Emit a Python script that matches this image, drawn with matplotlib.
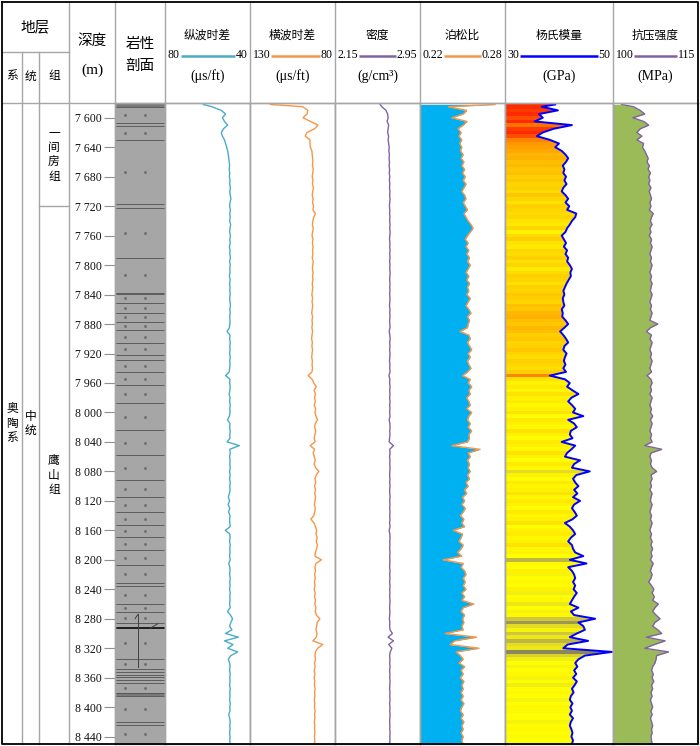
import matplotlib
matplotlib.use('Agg')
import matplotlib.pyplot as plt
from matplotlib.colors import LinearSegmentedColormap, Normalize
import numpy as np

plt.rcParams['font.family'] = ['Noto Sans CJK SC', 'DejaVu Sans']

# ---------------------------------------------------------------
# dados
# ---------------------------------------------------------------
depth = [7582] + list(range(7585, 8451, 5))

dt = [62.0,
      58, 53.5, 51.5, 53, 52, 50.5, 52.5, 53.5, 53, 52,
      51.5, 51, 50.5, 50.2, 50, 49.8, 49.6, 49.8, 49.5, 49.7,
      49.4, 49.6, 49.2, 49.5, 49.3, 49.0, 49.4, 49.6, 49.2, 49.5,
      49.3, 49.6, 49.1, 49.4, 49.6, 49.2, 49.5, 49.3, 49.7, 49.4,
      49.5, 49.2, 49.6, 49.3, 49.5, 49.4, 49.7, 49.3, 49.6, 49.4,
      49.5, 49.3, 49.6, 49.4, 49.2, 49.5, 49.3, 49.6, 49.4, 49.5,
      49.7, 50.8, 49.4, 49.6, 49.3, 49.5, 49.4, 49.6, 49.3, 49.5,
      49.4, 49.6, 49.8, 51.5, 49.4, 49.6, 49.3, 49.5, 49.8, 49.4,
      49.6, 49.3, 49.5, 49.4, 49.7, 50.6, 49.4, 49.6, 49.3, 49.5,
      49.4, 50.8, 45.0, 49.5, 49.3, 49.6, 49.4, 49.5, 49.3, 49.6,
      49.4, 49.6, 49.3, 49.5, 49.4, 49.7, 50.2, 49.6, 50.3, 49.5,
      50.1, 49.4, 49.6, 49.5, 49.3, 51.6, 49.5, 49.4, 49.6, 49.3,
      49.5, 49.4, 49.6, 49.3, 50.0, 49.5, 49.4, 49.6, 49.3, 49.5,
      49.4, 49.6, 49.3, 49.5, 49.4, 49.6, 49.3, 50.6, 49.2, 48.2,
      49.0, 49.6, 48.5, 51.5, 45.5, 52.0, 48.0, 50.5, 45.8, 49.0,
      50.2, 49.6, 49.4, 49.6, 49.3, 49.5, 49.4, 49.6, 49.3, 49.5,
      49.4, 49.6, 49.3, 49.5, 49.4, 50.0, 49.6, 49.3, 49.5, 49.4,
      49.6, 49.4, 49.5, 49.3]

dts = [118.0,
       99, 96, 96.5, 98.8, 94.5, 90, 92, 96.5, 97.5, 94.7,
       94.7, 94.5, 93.6, 93.4, 93.2, 93, 93.3, 92.8, 93.1, 93.4,
       93, 93.3, 92.7, 93.1, 93.4, 92.9, 93.2, 92.6, 93, 91.5,
       92.5, 93, 93.3, 92.8, 93.2, 93.5, 93, 93.3, 92.9, 93.2,
       93, 93.4, 92.8, 93.1, 93.3, 92.9, 93.2, 93, 93.4, 93.1,
       93.3, 93.6, 93.2, 93.5, 93.1, 93.4, 93.7, 93.2, 93.5, 93.3,
       93.6, 93.2, 93.5, 93.8, 93.3, 93.6, 93.2, 93.5, 93.7, 93.3,
       93.5, 93.2, 93.6, 95.8, 93.4, 92.5, 91, 92.3, 91.5, 92,
       91.6, 92.2, 91.4, 91.8, 91.2, 90.3, 91.6, 92, 91.3, 91.8,
       92.3, 91.7, 94.6, 92, 92.8, 92.2, 91.6, 92.3, 91.4, 89.5,
       91, 91.8, 91.3, 92, 91.5, 91.9, 91.4, 91.8, 92.1, 91.6,
       91.9, 92.5, 94.2, 92.3, 91.5, 90.8, 91.2, 90.5, 91, 90.4,
       90.8, 91.5, 91.8, 88, 91.2, 91.8, 91.5, 92, 91.6, 92.1,
       91.8, 92.2, 91.7, 92, 91.5, 91.9, 91.2, 91.6, 91, 88.9,
       90.5, 90.8, 91.2, 90.6, 91, 93, 87.2, 90.2, 91.5, 91.8,
       91.5, 92, 91.7, 92.2, 91.8, 92.3, 91.9, 92.1, 91.7, 92,
       91.8, 92.2, 91.9, 92.1, 91.7, 92, 91.8, 92.2, 91.9, 92,
       91.8, 92.1, 91.9, 92.0]

rhob = [2.575,
        2.59, 2.63, 2.645, 2.65, 2.64, 2.655, 2.65, 2.645, 2.655, 2.65,
        2.655, 2.66, 2.657, 2.662, 2.659, 2.663, 2.66, 2.664, 2.661, 2.665,
        2.662, 2.666, 2.663, 2.667, 2.664, 2.668, 2.665, 2.662, 2.666, 2.664,
        2.667, 2.664, 2.668, 2.665, 2.669, 2.666, 2.663, 2.667, 2.665, 2.668,
        2.665, 2.668, 2.664, 2.667, 2.665, 2.669, 2.666, 2.664, 2.668, 2.665,
        2.667, 2.664, 2.668, 2.666, 2.663, 2.667, 2.665, 2.668, 2.664, 2.666,
        2.668, 2.66, 2.666, 2.669, 2.665, 2.667, 2.664, 2.668, 2.666, 2.663,
        2.667, 2.665, 2.668, 2.658, 2.666, 2.664, 2.668, 2.665, 2.667, 2.664,
        2.668, 2.665, 2.667, 2.664, 2.668, 2.66, 2.666, 2.668, 2.665, 2.667,
        2.664, 2.66, 2.70, 2.665, 2.668, 2.664, 2.667, 2.665, 2.668, 2.666,
        2.664, 2.667, 2.665, 2.668, 2.664, 2.666, 2.668, 2.665, 2.667, 2.664,
        2.668, 2.665, 2.667, 2.664, 2.668, 2.66, 2.666, 2.668, 2.665, 2.667,
        2.664, 2.668, 2.665, 2.667, 2.666, 2.664, 2.668, 2.665, 2.667, 2.664,
        2.668, 2.665, 2.667, 2.664, 2.668, 2.666, 2.664, 2.667, 2.665, 2.662,
        2.666, 2.664, 2.668, 2.69, 2.65, 2.70, 2.655, 2.685, 2.67, 2.664,
        2.667, 2.665, 2.668, 2.664, 2.667, 2.665, 2.668, 2.666, 2.664, 2.667,
        2.665, 2.668, 2.664, 2.667, 2.665, 2.668, 2.666, 2.664, 2.667, 2.665,
        2.668, 2.666, 2.667, 2.665]

pr = [0.273,
      0.240, 0.253, 0.2505, 0.2425, 0.2532, 0.2505, 0.2468, 0.249, 0.2475, 0.2495,
      0.248, 0.2495, 0.2485, 0.2505, 0.249, 0.251, 0.2495, 0.2515, 0.25, 0.252,
      0.2505, 0.2525, 0.251, 0.2495, 0.2515, 0.2525, 0.2505, 0.252, 0.2535, 0.251,
      0.2525, 0.254, 0.256, 0.2575, 0.2555, 0.2535, 0.252, 0.254, 0.2525, 0.2545,
      0.253, 0.255, 0.2535, 0.2555, 0.254, 0.2525, 0.2545, 0.253, 0.255, 0.2535,
      0.2545, 0.253, 0.2555, 0.254, 0.2525, 0.2545, 0.256, 0.2535, 0.255, 0.254,
      0.2535, 0.2482, 0.2545, 0.2555, 0.2535, 0.255, 0.2565, 0.254, 0.2555, 0.2535,
      0.2545, 0.256, 0.2535, 0.250, 0.2555, 0.254, 0.2565, 0.2545, 0.2555, 0.253,
      0.2545, 0.2555, 0.253, 0.2565, 0.2545, 0.2535, 0.2555, 0.254, 0.2565, 0.2545,
      0.255, 0.2535, 0.2424, 0.2624, 0.254, 0.2555, 0.2535, 0.255, 0.254, 0.2555,
      0.2535, 0.255, 0.2525, 0.254, 0.2515, 0.253, 0.250, 0.2515, 0.2495, 0.252,
      0.2505, 0.2485, 0.251, 0.2495, 0.2515, 0.2435, 0.25, 0.249, 0.2475, 0.2505,
      0.249, 0.2465, 0.2495, 0.2363, 0.2505, 0.249, 0.2515, 0.2525, 0.2505, 0.252,
      0.2505, 0.2525, 0.2495, 0.2515, 0.2495, 0.258, 0.2505, 0.249, 0.2515, 0.25,
      0.251, 0.2495, 0.2505, 0.2377, 0.260, 0.2445, 0.2412, 0.2617, 0.2455, 0.2485,
      0.2505, 0.2475, 0.2515, 0.249, 0.2505, 0.2485, 0.251, 0.2495, 0.2505, 0.249,
      0.2505, 0.249, 0.251, 0.2495, 0.2485, 0.2505, 0.249, 0.251, 0.2495, 0.2505,
      0.249, 0.2505, 0.2495, 0.2505]

ym = [39.3,
      36.8, 39.8, 36.3, 37.0, 35.5, 42.4, 39.0, 37.0, 35.9, 38.3,
      40.0, 39.3, 40.5, 41.2, 41.7, 41.3, 40.7, 41.0, 40.8, 41.3,
      41.0, 41.4, 40.8, 40.5, 41.2, 41.7, 41.2, 41.9, 41.5, 43.2,
      43.0, 42.4, 42.0, 41.5, 41.2, 40.5, 40.9, 41.3, 40.9, 41.5,
      41.2, 41.7, 41.5, 42.0, 42.4, 42.1, 42.2, 41.8, 41.4, 41.1,
      40.8, 41.0, 40.7, 40.8, 41.0, 40.5, 40.7, 40.6, 41.2, 41.7,
      41.0, 40.2, 40.8, 41.3, 41.7, 41.0, 40.8, 41.4, 41.1, 40.9,
      41.2, 40.8, 41.3, 38.3, 41.1, 42.0, 41.5, 42.5, 43.6, 42.3,
      41.7, 42.4, 43.0, 42.6, 44.5, 41.7, 42.8, 43.3, 42.2, 42.0,
      42.5, 40.5, 43.0, 42.3, 41.5, 41.1, 43.9, 42.8, 42.4, 45.7,
      43.2, 42.6, 43.0, 43.6, 42.8, 43.4, 42.6, 43.9, 42.8, 42.4,
      42.9, 43.3, 42.5, 41.1, 42.0, 42.6, 43.0, 42.2, 41.7, 42.4,
      42.6, 43.0, 44.5, 42.0, 45.1, 41.7, 42.4, 42.8, 43.0, 42.6,
      43.0, 42.7, 43.3, 42.8, 42.4, 42.0, 43.6, 42.2, 42.8, 46.7,
      43.6, 44.5, 44.8, 43.3, 42.0, 45.4, 41.6, 40.8, 49.8, 44.8,
      43.6, 43.0, 43.4, 42.8, 43.2, 42.6, 43.3, 42.9, 42.4, 42.7,
      42.2, 42.0, 42.5, 42.1, 42.4, 42.0, 42.6, 42.2, 42.0, 42.3,
      42.5, 42.3, 42.6, 42.4]

# indice de cor do preenchimento do módulo de Young (-1 cinza, 0 amarelo, 1 vermelho)
ym_cor = [1.0,
          1.0, 0.95, 1.0, 0.9, 1.0, 0.8, 0.95, 1.0, 0.9, 0.75,
          0.7, 0.65, 0.6, 0.5, 0.55, 0.45, 0.5, 0.4, 0.45, 0.35,
          0.4, 0.3, 0.35, 0.25, 0.4, 0.3, 0.2, 0.35, 0.3, 0.25,
          0.3, 0.2, 0.15, 0.3, 0.1, 0.25, 0.35, 0.2, 0.15, 0.3,
          0.25, 0.35, 0.2, 0.3, 0.15, 0.25, 0.35, 0.3, 0.2, 0.35,
          0.3, 0.4, 0.35, 0.3, 0.45, 0.4, 0.5, 0.55, 0.45, 0.4,
          0.5, 0.45, 0.35, 0.4, 0.3, 0.35, 0.4, 0.3, 0.25, 0.35,
          0.3, 0.25, 0.35, 0.75, 0.2, 0.1, 0.15, 0.05, 0.2, 0.1,
          0.15, 0.05, 0.1, 0.2, 0.0, 0.15, 0.1, 0.05, 0.2, 0.1,
          0.0, 0.15, 0.1, 0.05, 0.2, 0.1, 0.0, 0.15, 0.05, -0.3,
          0.1, 0.0, 0.15, 0.05, 0.1, 0.2, 0.05, 0.15, 0.1, 0.0,
          0.15, 0.05, 0.1, 0.2, 0.0, 0.1, 0.15, 0.05, 0.1, 0.2,
          0.05, 0.1, 0.0, -0.6, 0.05, 0.0, 0.1, -0.1, 0.0, 0.05,
          0.0, 0.1, -0.15, 0.0, 0.05, -0.2, 0.0, -0.1, 0.05, -0.5,
          -0.8, -0.3, -0.1, -0.5, -0.2, -0.6, -0.3, -0.2, -0.9, -0.4,
          -0.15, 0.0, -0.1, 0.0, 0.05, -0.1, 0.0, -0.15, 0.0, 0.05,
          0.0, -0.1, 0.0, 0.05, -0.05, 0.0, 0.0, -0.1, 0.0, 0.05,
          0.0, -0.05, 0.0, 0.0]

ucs = [101.5,
       103.6, 104.8, 105.6, 103.5, 105.4, 106.3, 104.8, 104.2, 105.1, 104.2,
       105.4, 105.2, 105.6, 105.9, 106.2, 106.0, 106.4, 106.2, 106.6, 106.3,
       106.5, 106.3, 106.7, 106.4, 106.6, 106.8, 106.5, 106.7, 106.4, 107.1,
       106.8, 106.6, 106.9, 106.5, 106.7, 106.4, 106.8, 106.6, 106.9, 106.7,
       106.5, 106.8, 106.6, 106.9, 106.7, 106.5, 106.8, 106.6, 106.9, 106.7,
       106.6, 106.9, 106.7, 106.5, 106.8, 106.6, 106.9, 106.7, 106.5, 107.9,
       106.6, 105.9, 106.8, 106.5, 106.9, 106.7, 106.5, 106.8, 106.6, 106.9,
       106.7, 106.5, 106.8, 106.0, 106.7, 106.9, 106.6, 106.8, 106.5, 106.9,
       106.7, 106.5, 106.8, 106.6, 107.0, 106.6, 106.9, 106.7, 106.5, 106.8,
       106.6, 106.9, 105.6, 108.6, 106.7, 106.5, 106.8, 106.6, 106.9, 107.7,
       106.7, 106.9, 106.6, 106.8, 106.5, 106.9, 106.7, 106.6, 106.9, 106.7,
       106.5, 106.8, 106.6, 106.9, 106.7, 106.5, 106.8, 106.6, 106.9, 106.7,
       107.0, 106.7, 106.9, 106.6, 107.1, 106.8, 106.6, 106.9, 106.7, 106.3,
       106.8, 107.2, 106.9, 107.3, 107.0, 108.0, 107.4, 107.0, 107.6, 108.3,
       107.4, 107.0, 107.9, 108.6, 105.9, 109.2, 107.3, 105.6, 109.8, 107.7,
       107.6, 107.4, 107.0, 106.8, 107.1, 106.9, 107.2, 106.8, 107.0, 106.7,
       106.9, 106.6, 106.8, 107.0, 106.7, 106.9, 106.6, 106.8, 107.0, 106.8,
       106.9, 106.7, 106.8, 106.9]

# limites das camadas (perfil litológico)
camadas = [7585, 7607, 7611, 7630, 7717, 7722, 7790, 7838, 7839, 7851, 7865,
           7877, 7888, 7906, 7922, 7929, 7945, 7963, 7987, 8024, 8058, 8092,
           8115, 8135, 8153, 8169, 8187, 8207, 8231, 8235, 8260, 8271, 8286,
           8292, 8334, 8348, 8352, 8356, 8359, 8363, 8367, 8381, 8385, 8420, 8424]
faixas_escuras = [(7580, 7585), (8381, 8385)]
fratura = (8274, 8346)

formacoes = [('一间房组', 7580, 7720), ('鹰山组', 7720, 8450)]
serie = '中统'
sistema = '奥陶系'

profundidades = list(range(7600, 8441, 40))

# ---------------------------------------------------------------
# figura
# ---------------------------------------------------------------
W, H = 700, 746
TOP, BOT = 103, 744
D_TOP, D_BOT = 7580, 8450
GRID = '#a6a6a6'
SERIF = 'Liberation Serif'

fig = plt.figure(figsize=(W / 100, H / 100), dpi=100)


def px_rect(x0, x1, y0=TOP, y1=BOT):
    return [x0 / W, 1 - y1 / H, (x1 - x0) / W, (y1 - y0) / H]


def trilha(x0, x1, xlim):
    ax = fig.add_axes(px_rect(x0, x1))
    ax.set_xlim(*xlim)
    ax.set_ylim(D_BOT, D_TOP)
    ax.set_xticks([])
    ax.set_yticks([])
    for s in ax.spines.values():
        s.set_color(GRID)
        s.set_linewidth(1)
    return ax


# estratigrafia
ax_s = fig.add_axes(px_rect(2, 69))
ax_s.set_xlim(2, 69)
ax_s.set_ylim(D_BOT, D_TOP)
ax_s.axis('off')
for nome, d0, d1 in formacoes:
    ax_s.text(54, (d0 + d1) / 2, '\n'.join(nome), ha='center', va='center',
              fontsize=8.5, linespacing=1.15)
ax_s.plot([39, 69], [formacoes[0][2]] * 2, color=GRID, lw=1)
ax_s.text(30.5, (D_TOP + D_BOT) / 2, '\n'.join(serie), ha='center', va='center',
          fontsize=8.5, linespacing=1.15)
ax_s.text(12, (D_TOP + D_BOT) / 2, '\n'.join(sistema), ha='center', va='center',
          fontsize=8.5, linespacing=1.15)

# perfil litológico + profundidade
ax_l = trilha(115, 165, (0, 1))
ax_l.fill_betweenx([D_TOP, D_BOT], 0, 1, color='#a6a6a6', lw=0)
for d0, d1 in faixas_escuras:
    ax_l.fill_betweenx([d0, d1], 0, 1, color='#7a7a7a', lw=0)
ax_l.hlines(camadas, 0, 1, color='#505050', lw=0.6)
ax_l.hlines([8292], 0, 1, color='#202020', lw=1.4)
meios = [(a + b) / 2 for a, b in zip(camadas[:-1], camadas[1:]) if b - a > 8]
meios += [(camadas[-1] + D_BOT) / 2]
ax_l.plot([0.2] * len(meios), meios, ls='none', marker='s', ms=1.0, color='#707070')
ax_l.plot([0.6] * len(meios), meios, ls='none', marker='s', ms=1.0, color='#707070')
ax_l.plot([0.46, 0.46], fratura, color='#404040', lw=0.7)
ax_l.plot([0.40, 0.46], [fratura[0] + 6, fratura[0]], color='#404040', lw=0.7)
ax_l.plot([0.70, 0.85], [8293, 8287], color='#404040', lw=0.7)
ax_l.set_yticks(profundidades)
ax_l.set_yticklabels([f'{d // 1000} {d % 1000:03d}' for d in profundidades],
                     fontfamily=SERIF, fontsize=8.5)
ax_l.tick_params(axis='y', direction='out', length=8, width=0.8, color='#909090',
                 pad=1.5, labelcolor='#111111')
ax_l.set_ylim(D_BOT, D_TOP)

# curvas
ax1 = trilha(165, 250, (80, 40))
ax1.plot(dt, depth, color='#4bacc6', lw=1.0)

ax2 = trilha(250, 335, (130, 80))
ax2.plot(dts, depth, color='#f79646', lw=1.0)

ax3 = trilha(335, 420, (2.15, 2.95))
ax3.plot(rhob, depth, color='#8064a2', lw=1.0)

ax4 = trilha(420, 505, (0.22, 0.28))
ax4.fill_betweenx(depth, 0.22, pr, color='#00b0f0', lw=0)
ax4.plot(pr, depth, color='#f79646', lw=1.0)

ax5 = trilha(505, 613, (30, 50))
cmap = LinearSegmentedColormap.from_list(
    'ym', [(0, '#7b785e'), (0.25, '#cfc63c'), (0.5, '#ffff00'),
           (0.7, '#ffc800'), (0.85, '#ff9900'), (1.0, '#ff2a00')])
d = np.array(depth, dtype=float)
y_edges = np.concatenate([[d[0]], (d[:-1] + d[1:]) / 2, [d[-1]]])
mesh = ax5.pcolormesh([30, 50], y_edges, np.array(ym_cor)[:, None], cmap=cmap,
                      norm=Normalize(-1, 1), shading='flat', antialiased=False)
poly = ax5.fill_betweenx(depth, 30, ym, facecolor='none', edgecolor='none')
mesh.set_clip_path(poly.get_paths()[0], ax5.transData)
ax5.plot(ym, depth, color='#0000ff', lw=1.4)
ax5.set_xlim(30, 50)
ax5.set_ylim(D_BOT, D_TOP)

ax6 = trilha(613, 698, (100, 115))
ax6.fill_betweenx(depth, 100, ucs, color='#9bbb59', lw=0)
ax6.plot(ucs, depth, color='#8064a2', lw=1.0)

# ---------------------------------------------------------------
# cabeçalho e moldura
# ---------------------------------------------------------------
fr = fig.add_axes([0, 0, 1, 1])
fr.set_xlim(0, W)
fr.set_ylim(H, 0)
fr.axis('off')
fr.patch.set_alpha(0)

for x in [69, 115, 165, 250, 335, 420, 505, 613]:
    fr.plot([x, x], [2, BOT], color=GRID, lw=1)
for x in [22, 39]:
    fr.plot([x, x], [52, BOT], color=GRID, lw=1)
fr.plot([2, 69], [52, 52], color=GRID, lw=1)
fr.plot([2, 698], [TOP, TOP], color=GRID, lw=1)
fr.plot([2, 698, 698, 2, 2], [2, 2, BOT, BOT, 2], color='black', lw=1.3)

fr.text(35.5, 27, '地层', ha='center', va='center', fontsize=10.5)
for x, t in [(12, '系'), (30.5, '统'), (54, '组')]:
    fr.text(x, 76, t, ha='center', va='center', fontsize=8.5)
fr.text(92, 41, '深度', ha='center', va='center', fontsize=10.5)
fr.text(92, 70, '(m)', ha='center', va='center', fontsize=11, fontfamily=SERIF)
fr.text(140, 44, '岩性', ha='center', va='center', fontsize=10.5)
fr.text(140, 66, '剖面', ha='center', va='center', fontsize=10.5)

cabecalhos = [
    (165, 250, '纵波时差', '80', '40', '(μs/ft)', '#4bacc6'),
    (250, 335, '横波时差', '130', '80', '(μs/ft)', '#f79646'),
    (335, 420, '密度', '2.15', '2.95', '(g/cm³)', '#8064a2'),
    (420, 505, '泊松比', '0.22', '0.28', '', '#f79646'),
    (505, 613, '杨氏模量', '30', '50', '(GPa)', '#0000ff'),
    (613, 698, '抗压强度', '100', '115', '(MPa)', '#8064a2'),
]
escala = []
for x0, x1, tit, esq, dir_, un, cor in cabecalhos:
    fr.text((x0 + x1) / 2, 35, tit, ha='center', va='center', fontsize=8.5)
    te = fr.text(x0 + 2.5, 55.5, esq, ha='left', va='center', fontsize=8.5, fontfamily=SERIF)
    td = fr.text(x1 - 2.5, 55.5, dir_, ha='right', va='center', fontsize=8.5, fontfamily=SERIF)
    if un:
        fr.text((x0 + x1) / 2, 76, un, ha='center', va='center', fontsize=10, fontfamily=SERIF)
    escala.append((te, td, cor))

fig.canvas.draw()
r = fig.canvas.get_renderer()
inv = fr.transData.inverted()
for te, td, cor in escala:
    b1 = te.get_window_extent(r).transformed(inv)
    b2 = td.get_window_extent(r).transformed(inv)
    fr.plot([b1.x1 + 1, b2.x0 - 1], [55.5, 55.5], color=cor, lw=1.8, solid_capstyle='butt')

fig.savefig('out.png', dpi=100)
